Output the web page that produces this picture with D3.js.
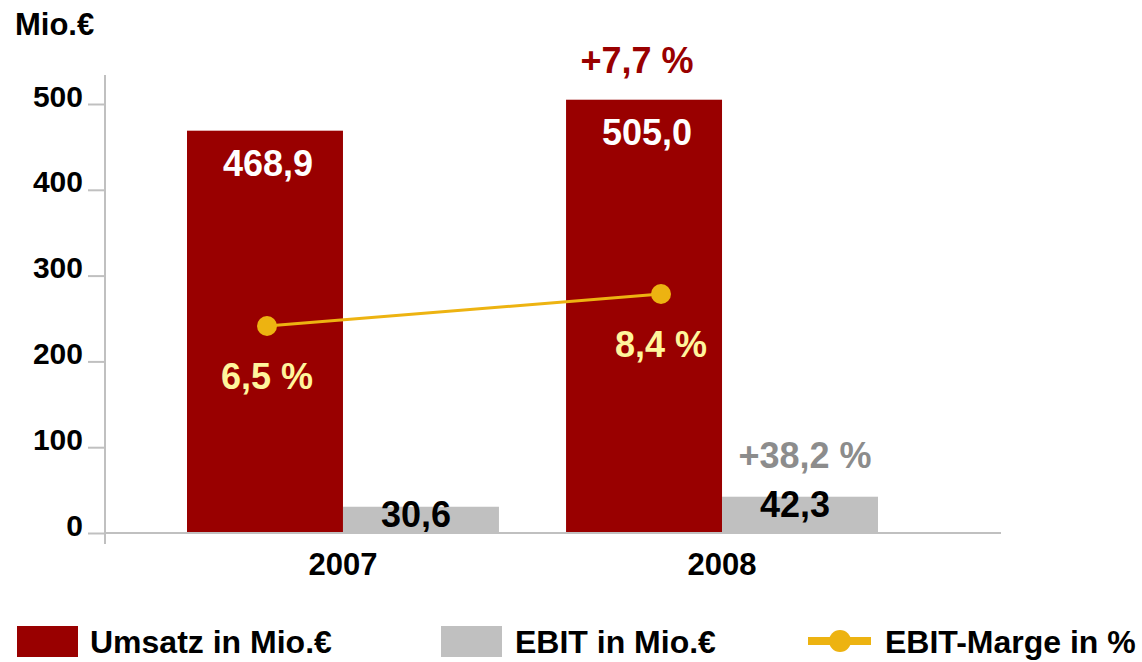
<!DOCTYPE html>
<html>
<head>
<meta charset="utf-8">
<script src="https://cdn.jsdelivr.net/npm/d3@7"></script>
<style>
  html, body { margin: 0; padding: 0; background: #ffffff; }
  svg { display: block; }
  text { font-family: "Liberation Sans", Arial, sans-serif; font-weight: bold; }
</style>
</head>
<body>
<svg id="chart" width="1142" height="662"></svg>
<script>
// ---- data ----
const years = ["2007", "2008"];
const umsatz = [468.9, 505.0];
const ebit = [30.6, 42.3];
const marge = [6.5, 8.4];
const umsatzLabels = ["468,9", "505,0"];
const ebitLabels = ["30,6", "42,3"];
const margeLabels = ["6,5 %", "8,4 %"];
const growthUmsatz = "+7,7 %";
const growthEbit = "+38,2 %";
const yTicks = [0, 100, 200, 300, 400, 500];
const seriesNames = ["Umsatz", "EBIT"];
const legendLabels = ["Umsatz in Mio.€", "EBIT in Mio.€", "EBIT-Marge in %"];
const unitLabel = "Mio.€";

// ---- style ----
const cRed = "#990000", cGray = "#C0C0C0", cLine = "#EDB311", cPale = "#FFF59D";
const cAxis = "#C0C0C0", cGrowthGray = "#8C8C8C";

const svg = d3.select("#chart");

// ---- scales ----
const y = d3.scaleLinear().domain([0, 500]).range([533, 104]);
const xGroup = d3.scaleBand().domain(years).range([187, 878]).paddingInner(0.177).paddingOuter(0);
const xSeries = d3.scaleBand().domain(seriesNames).range([0, xGroup.bandwidth()]);
const xLine = d3.scalePoint().domain(years).range([267, 661]);
const y2 = d3.scaleLinear().domain([6, 9]).range([334.4, 283.9]);

// ---- unit label ----
svg.append("text").attr("x", 15).attr("y", 35).attr("font-size", 31).attr("fill", "#000").text(unitLabel);

// ---- y axis ----
const yAxis = svg.append("g").attr("transform", "translate(105,0)")
  .call(d3.axisLeft(y).tickValues(yTicks).tickSize(17).tickPadding(5).tickFormat(d3.format("d")));
yAxis.select(".domain").remove();
yAxis.selectAll(".tick line").attr("stroke", cAxis).attr("stroke-width", 2);
yAxis.selectAll(".tick text").attr("font-size", 30).attr("fill", "#000")
  .attr("font-family", "'Liberation Sans', Arial, sans-serif").attr("font-weight", "bold").attr("dy", "0.07em");
svg.append("line").attr("x1", 105).attr("x2", 105).attr("y1", 75).attr("y2", 544)
  .attr("stroke", cAxis).attr("stroke-width", 2);

// ---- bars ----
const groups = svg.selectAll("g.grp").data(years).enter().append("g")
  .attr("class", "grp").attr("transform", d => `translate(${xGroup(d)},0)`);
groups.append("rect")
  .attr("x", xSeries("Umsatz")).attr("width", xSeries.bandwidth())
  .attr("y", (d, i) => y(umsatz[i])).attr("height", (d, i) => y(0) - y(umsatz[i]))
  .attr("fill", cRed);
groups.append("rect")
  .attr("x", xSeries("EBIT")).attr("width", xSeries.bandwidth())
  .attr("y", (d, i) => y(ebit[i])).attr("height", (d, i) => y(0) - y(ebit[i]))
  .attr("fill", cGray);

// ---- x axis ----
svg.append("line").attr("x1", 105).attr("x2", 1001).attr("y1", 533).attr("y2", 533)
  .attr("stroke", cAxis).attr("stroke-width", 2);
const xAxis = svg.append("g").attr("transform", "translate(0,533)")
  .call(d3.axisBottom(xGroup).tickSize(0).tickPadding(0));
xAxis.select(".domain").remove();
xAxis.selectAll(".tick text").attr("font-size", 31).attr("fill", "#000")
  .attr("font-family", "'Liberation Sans', Arial, sans-serif").attr("font-weight", "bold")
  .attr("dy", "42px");

// ---- bar labels ----
groups.append("text")
  .attr("x", xSeries("Umsatz") + xSeries.bandwidth() / 2 + 3)
  .attr("y", (d, i) => y(umsatz[i]) + 45)
  .attr("text-anchor", "middle").attr("font-size", 36).attr("fill", "#fff")
  .text((d, i) => umsatzLabels[i]);
groups.append("text")
  .attr("x", xSeries("EBIT") + xSeries.bandwidth() / 2 - 5)
  .attr("y", (d, i) => y(ebit[i]) + 20)
  .attr("text-anchor", "middle").attr("font-size", 36).attr("fill", "#000")
  .text((d, i) => ebitLabels[i]);

// growth labels (on 2008)
svg.append("text")
  .attr("x", xGroup("2008") + xSeries("Umsatz") + xSeries.bandwidth() / 2 - 7)
  .attr("y", y(umsatz[1]) - 27)
  .attr("text-anchor", "middle").attr("font-size", 36).attr("fill", cRed).text(growthUmsatz);
svg.append("text")
  .attr("x", xGroup("2008") + xSeries("EBIT") + xSeries.bandwidth() / 2 + 5)
  .attr("y", y(ebit[1]) - 29)
  .attr("text-anchor", "middle").attr("font-size", 36).attr("fill", cGrowthGray).text(growthEbit);

// ---- line ----
const line = d3.line().x((d, i) => xLine(years[i])).y(d => y2(d));
svg.append("path").datum(marge).attr("d", line)
  .attr("fill", "none").attr("stroke", cLine).attr("stroke-width", 3);
svg.selectAll("circle.pt").data(marge).enter().append("circle").attr("class", "pt")
  .attr("cx", (d, i) => xLine(years[i])).attr("cy", d => y2(d)).attr("r", 10).attr("fill", cLine);
svg.selectAll("text.mlab").data(marge).enter().append("text").attr("class", "mlab")
  .attr("x", (d, i) => xLine(years[i])).attr("y", d => y2(d) + 63)
  .attr("text-anchor", "middle").attr("font-size", 36).attr("fill", cPale)
  .text((d, i) => margeLabels[i]);

// ---- legend ----
const lg = svg.append("g");
lg.append("rect").attr("x", 17).attr("y", 626).attr("width", 61).attr("height", 31).attr("fill", cRed);
lg.append("text").attr("x", 90).attr("y", 653).attr("font-size", 32).attr("fill", "#000").text(legendLabels[0]);
lg.append("rect").attr("x", 441).attr("y", 626).attr("width", 61).attr("height", 31).attr("fill", cGray);
lg.append("text").attr("x", 515).attr("y", 653).attr("font-size", 32).attr("fill", "#000").text(legendLabels[1]);
lg.append("line").attr("x1", 808).attr("x2", 871).attr("y1", 641).attr("y2", 641)
  .attr("stroke", cLine).attr("stroke-width", 8);
lg.append("circle").attr("cx", 840).attr("cy", 641).attr("r", 11).attr("fill", cLine);
lg.append("text").attr("x", 885).attr("y", 653).attr("font-size", 32).attr("fill", "#000").text(legendLabels[2]);
</script>
</body>
</html>
